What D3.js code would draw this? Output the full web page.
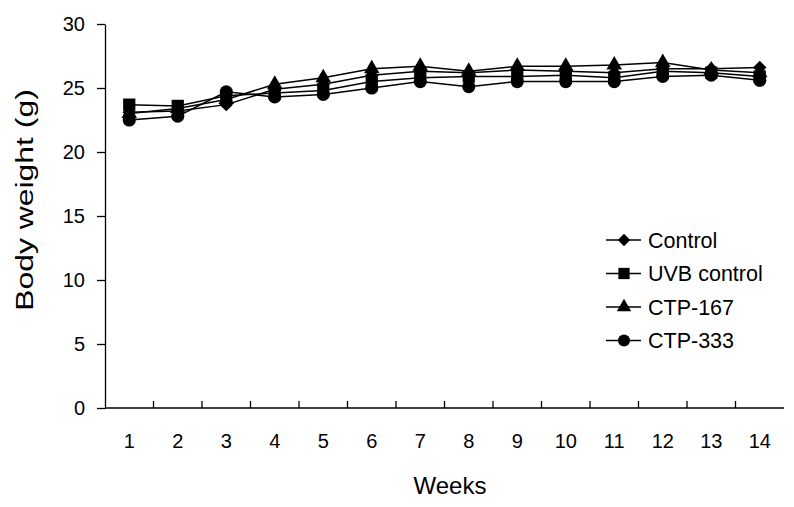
<!DOCTYPE html>
<html>
<head>
<meta charset="utf-8">
<script src="https://cdn.jsdelivr.net/npm/d3@7"></script>
<style>
  html, body { margin: 0; padding: 0; background: #fff; }
  svg { display: block; font-family: "Liberation Sans", Arial, sans-serif; }
</style>
</head>
<body>
<svg id="chart" width="794" height="507"></svg>
<script>
const weeks = [1,2,3,4,5,6,7,8,9,10,11,12,13,14];
const seriesNames = ["Control", "UVB control", "CTP-167", "CTP-333"];
const controlVals = [23.1, 23.2, 23.7, 24.9, 25.3, 26.0, 26.3, 26.2, 26.4, 26.3, 26.2, 26.5, 26.5, 26.6];
const uvbVals     = [23.7, 23.6, 24.4, 24.6, 24.8, 25.5, 25.8, 25.9, 25.9, 26.0, 25.8, 26.3, 26.2, 25.9];
const ctp167Vals  = [23.0, 23.4, 24.1, 25.3, 25.8, 26.5, 26.7, 26.3, 26.7, 26.7, 26.8, 27.0, 26.4, 26.2];
const ctp333Vals  = [22.5, 22.8, 24.7, 24.3, 24.5, 25.0, 25.5, 25.1, 25.5, 25.5, 25.5, 25.9, 26.0, 25.6];
const yTicks = [0, 5, 10, 15, 20, 25, 30];

const series = [
  { name: seriesNames[0], values: controlVals, symbol: d3.symbolSquare, size: 90, rot: 45 },
  { name: seriesNames[1], values: uvbVals,     symbol: d3.symbolSquare, size: 150, rot: 0 },
  { name: seriesNames[2], values: ctp167Vals,  symbol: d3.symbolTriangle, size: 105, rot: 0 },
  { name: seriesNames[3], values: ctp333Vals,  symbol: d3.symbolCircle, size: 135, rot: 0 }
];

const svg = d3.select("#chart");
const mLeft = 105, mRight = 784, mTop = 24, mBottom = 408;

const x = d3.scaleBand().domain(weeks).range([mLeft, mRight]);
const y = d3.scaleLinear().domain([0, 30]).range([mBottom, mTop]);

// Y axis
const yAxis = d3.axisLeft(y).tickValues(yTicks).tickSize(8).tickPadding(12).tickSizeOuter(0);
const gy = svg.append("g").attr("transform", `translate(${mLeft},0)`).call(yAxis);
gy.select(".domain").attr("stroke", "#000").attr("stroke-width", 1.3);
gy.selectAll(".tick line").attr("stroke", "#000").attr("stroke-width", 1.3);
gy.selectAll(".tick text").attr("font-size", 20).attr("fill", "#000")
  .attr("font-family", "Liberation Sans, Arial, sans-serif");

// X axis: domain line, ticks at band boundaries pointing up
const gx = svg.append("g").attr("transform", `translate(0,${mBottom})`);
gx.append("line").attr("x1", mLeft).attr("x2", mRight).attr("y1", 0).attr("y2", 0)
  .attr("stroke", "#000").attr("stroke-width", 1.3);
gx.selectAll("line.tk").data(weeks.slice(1)).enter().append("line")
  .attr("class", "tk")
  .attr("x1", d => x(d)).attr("x2", d => x(d))
  .attr("y1", 0).attr("y2", -7)
  .attr("stroke", "#000").attr("stroke-width", 1.3);
gx.selectAll("text").data(weeks).enter().append("text")
  .attr("x", d => x(d) + x.bandwidth() / 2)
  .attr("y", 40)
  .attr("text-anchor", "middle")
  .attr("font-size", 20)
  .text(d => d);

// Axis titles
svg.append("text").attr("x", 450).attr("y", 494).attr("text-anchor", "middle")
  .attr("font-size", 24).text("Weeks");
svg.append("text").attr("transform", "translate(33,200) rotate(-90) scale(1.33,1)")
  .attr("text-anchor", "middle").attr("font-size", 24)
  .text("Body weight (g)");

// Lines and markers
const cx = d => x(d) + x.bandwidth() / 2;
const line = d3.line().x((v, i) => cx(weeks[i])).y(v => y(v));

series.forEach(s => {
  svg.append("path").datum(s.values).attr("d", line)
    .attr("fill", "none").attr("stroke", "#000").attr("stroke-width", 1.5);
});
series.forEach(s => {
  svg.append("g").selectAll("path").data(s.values).enter().append("path")
    .attr("d", d3.symbol().type(s.symbol).size(s.size))
    .attr("transform", (v, i) => `translate(${cx(weeks[i])},${y(v)}) rotate(${s.rot})`)
    .attr("fill", "#000");
});

// Legend
const legend = svg.append("g");
series.forEach((s, i) => {
  const ly = 240 + i * 33.5;
  legend.append("line").attr("x1", 606).attr("x2", 641).attr("y1", ly).attr("y2", ly)
    .attr("stroke", "#000").attr("stroke-width", 1.5);
  legend.append("path").attr("d", d3.symbol().type(s.symbol).size(s.size * 0.85))
    .attr("transform", `translate(624,${ly}) rotate(${s.rot})`).attr("fill", "#000");
  legend.append("text").attr("x", 648).attr("y", ly + 7.5).attr("font-size", 21.5).text(s.name);
});
</script>
</body>
</html>
